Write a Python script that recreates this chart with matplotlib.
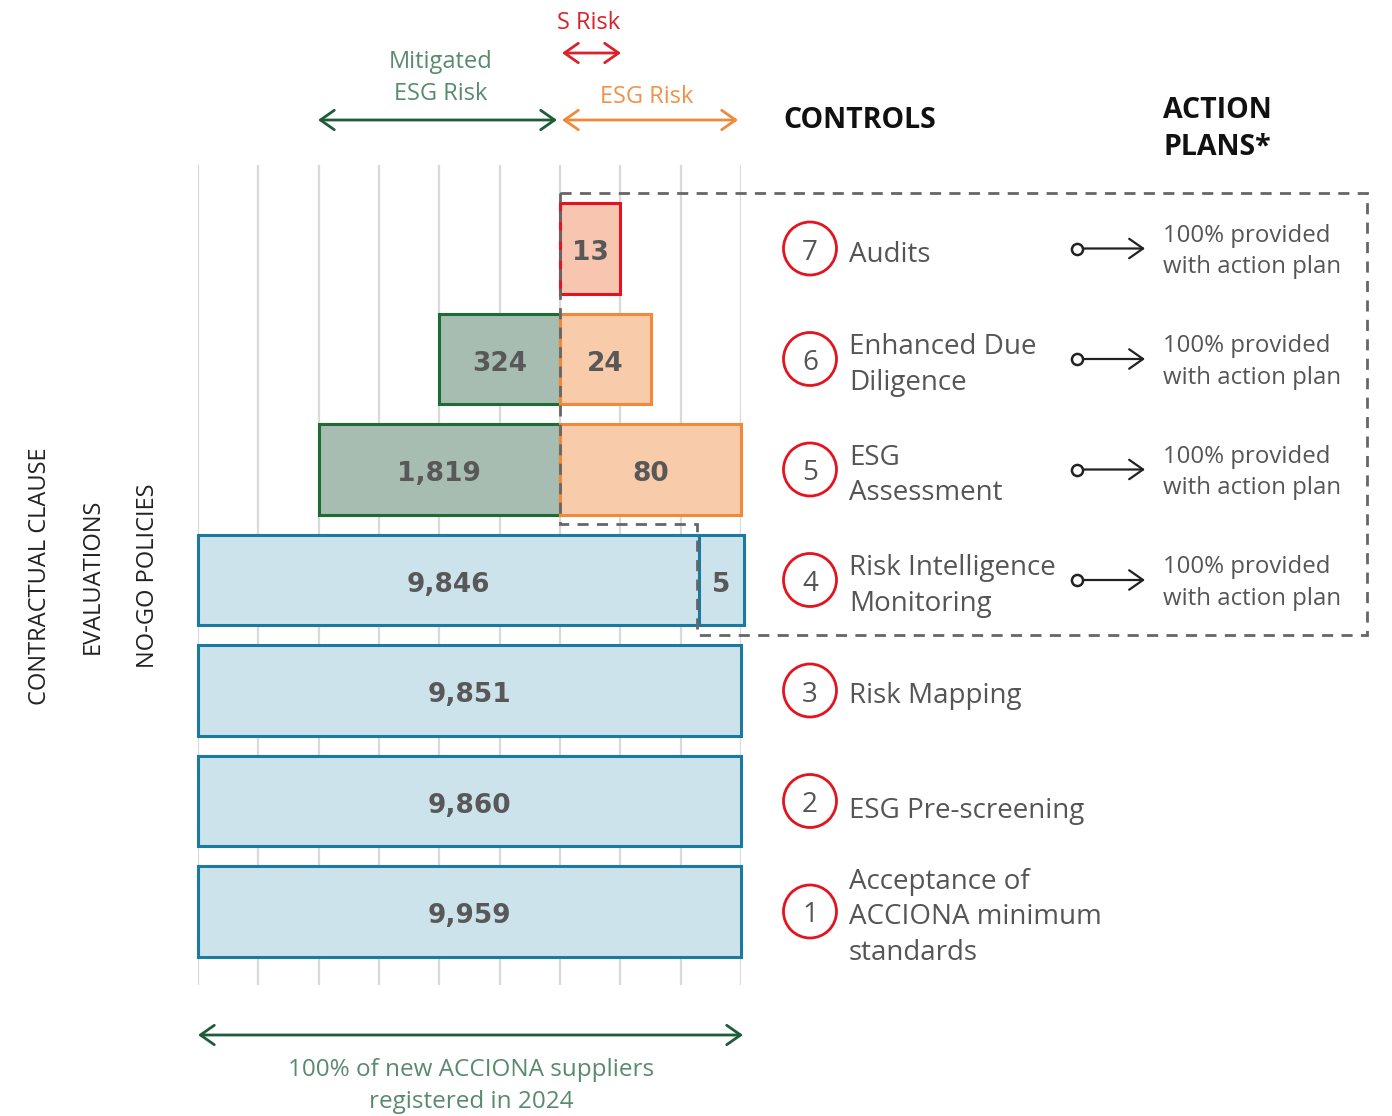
import matplotlib.pyplot as plt
from matplotlib.patches import Circle, Polygon

plt.rcParams['font.family'] = ['Open Sans', 'DejaVu Sans']

# ── Data ──────────────────────────────────────────────────────────────────────
controls = ['Acceptance of\nACCIONA minimum\nstandards', 'ESG Pre-screening',
            'Risk Mapping', 'Risk Intelligence\nMonitoring', 'ESG\nAssessment',
            'Enhanced Due\nDiligence', 'Audits']
control_num = [1, 2, 3, 4, 5, 6, 7]

seg_row = [0, 1, 2, 3, 3, 4, 4, 5, 5, 6]
seg_value = [9959, 9860, 9851, 9846, 5, 1819, 80, 324, 24, 13]
seg_kind = ['base', 'base', 'base', 'base', 'base',
            'mitigated', 'esg', 'mitigated', 'esg', 's']
# schematic extent of every segment, in grid columns (not to scale)
seg_start = [0, 0, 0, 0, 8.3, 2, 6, 4, 6, 6]
seg_end = [9, 9, 9, 8.3, 9.05, 6, 9, 6, 7.5, 7]

action_rows = [3, 4, 5, 6]
action_text = '100% provided\nwith action plan'
side_labels = ['CONTRACTUAL CLAUSE', 'EVALUATIONS', 'NO-GO POLICIES']

fills = {'base': '#cce3eb', 'mitigated': '#a7bdb2', 'esg': '#f8cbab', 's': '#f7c5b0'}
edges = {'base': '#1a7aa0', 'mitigated': '#1e6b34', 'esg': '#f08a3a', 's': '#e3141f'}

# ── Figure ────────────────────────────────────────────────────────────────────
W, H = 1392, 1116
fig = plt.figure(figsize=(W / 100, H / 100), dpi=100)

# bar area: grid columns 0..9 span pixels 198..741, rows centred every 110.5 px
x0, x1, ytop, ybot = 198, 741, 165, 985
def row_y(r):
    return 911.5 - 110.5 * r

ax = fig.add_axes([x0 / W, (H - ybot) / H, (x1 - x0) / W, (ybot - ytop) / H])
ax.set_xlim(0, 9)
ax.set_ylim((911.5 - ybot) / 110.5, (911.5 - ytop) / 110.5)
ax.axis('off')
for g in range(10):
    ax.axvline(g, color='#d9d9d9', lw=1.6, zorder=0)

for r, v, k, s, e in zip(seg_row, seg_value, seg_kind, seg_start, seg_end):
    ax.barh(r, e - s, left=s, height=0.82, color=fills[k], edgecolor=edges[k],
            lw=2.2, zorder=2, clip_on=False)
    ax.text((s + e) / 2, r - 0.045, f'{v:,}', ha='center', va='center', fontsize=19,
            fontweight='bold', color='#585858', zorder=3, family='DejaVu Sans')

# overlay in pixel coordinates for annotations
ov = fig.add_axes([0, 0, 1, 1])
ov.set_xlim(0, W)
ov.set_ylim(H, 0)
ov.axis('off')

# dashed box round controls with action plans
box = Polygon([(560, 193), (1367, 193), (1367, 635), (697, 635), (697, 524),
               (560, 524)], closed=True, fill=False, ls=(0, (4, 3)), lw=2,
              edgecolor='#666666', zorder=5)
ov.add_patch(box)

def darrow(xa, xb, y, color, lw=2):
    ov.annotate('', xy=(xb, y), xytext=(xa, y),
                arrowprops=dict(arrowstyle='<->,head_length=0.5,head_width=0.35',
                                mutation_scale=20, color=color, lw=lw,
                                shrinkA=0, shrinkB=0))

# top legend arrows
darrow(318, 557, 120, '#1f5c3a')
ov.text(441, 78, 'Mitigated\nESG Risk', ha='center', va='center', fontsize=17,
        color='#5a8a6e', linespacing=1.45)
darrow(562, 738, 120, '#f08a3a')
ov.text(647, 97, 'ESG Risk', ha='center', va='center', fontsize=17, color='#f0924a')
darrow(562, 621, 53, '#d8232a')
ov.text(589, 23, 'S Risk', ha='center', va='center', fontsize=17, color='#d8232a')

ov.text(783, 120, 'CONTROLS', ha='left', va='center', fontsize=20.5,
        fontweight='bold', color='#111111')
ov.text(1163, 129, 'ACTION\nPLANS*', ha='left', va='center', fontsize=20.5,
        fontweight='bold', color='#111111', linespacing=1.35)

# controls
for i, (num, lab) in enumerate(zip(control_num, controls)):
    y = row_y(i)
    ov.add_patch(Circle((810, y), 26.5, fill=False, edgecolor='#e3141f', lw=2, zorder=4))
    ov.text(810, y + 4, str(num), ha='center', va='center', fontsize=20, color='#555555')
    ov.text(849, y + (10 if i == 1 else 6), lab, ha='left', va='center', fontsize=20,
            color='#555555', linespacing=1.35)

# action plans
for r in action_rows:
    y = row_y(r)
    ov.annotate('', xy=(1145, y), xytext=(1082, y),
                arrowprops=dict(arrowstyle='->,head_length=0.5,head_width=0.35',
                                mutation_scale=20, color='#222222', lw=1.6,
                                shrinkA=0, shrinkB=0))
    ov.plot(1077, y, 'o', ms=8, mfc='white', mec='#222222', mew=1.8, zorder=6)
    ov.text(1163, y + 3, action_text, ha='left', va='center', fontsize=17.3,
            color='#555555', linespacing=1.42)

# left vertical labels
for xl, lab in zip([40, 93, 148], side_labels):
    ov.text(xl, 576, lab, rotation=90, ha='center', va='center', fontsize=17,
            color='#222222')

# bottom total arrow
darrow(198, 743, 1035, '#1f5c3a')
ov.text(471, 1086, '100% of new ACCIONA suppliers\nregistered in 2024', ha='center',
        va='center', fontsize=17.5, color='#5a8a6e', linespacing=1.4)

plt.savefig('out.png', dpi=100)
